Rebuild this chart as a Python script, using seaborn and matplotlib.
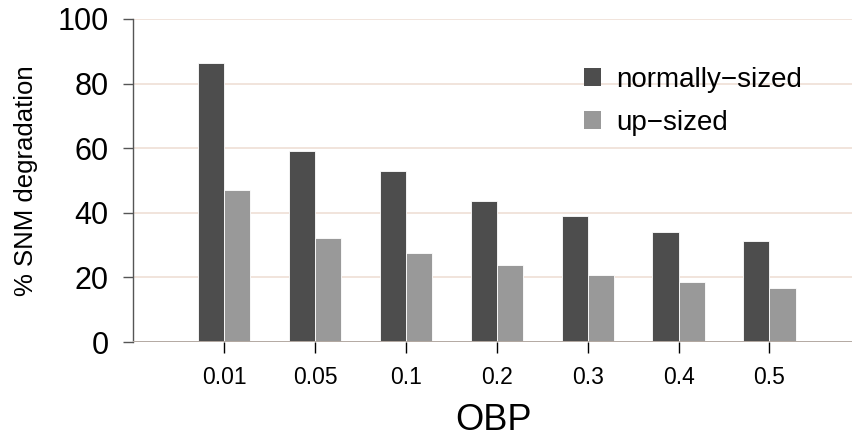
import matplotlib
matplotlib.use("Agg")
import matplotlib.pyplot as plt
from matplotlib import font_manager
from matplotlib.patches import Patch
import seaborn as sns
import pandas as pd

# Data
obp_levels = ["0.01", "0.05", "0.1", "0.2", "0.3", "0.4", "0.5"]
normally_sized = [86.4, 59.1, 52.9, 43.7, 39.0, 34.0, 31.3]
up_sized = [47.0, 32.2, 27.6, 23.8, 20.7, 18.6, 16.7]
series_names = ["normally\u2212sized", "up\u2212sized"]
y_ticks = [0, 20, 40, 60, 80, 100]

sns.set_style("white")
available = {f.name for f in font_manager.fontManager.ttflist}
regular = "Liberation Sans"
narrow = "Liberation Sans Narrow" if "Liberation Sans Narrow" in available else regular
plt.rcParams["font.family"] = [regular, "DejaVu Sans"]
plt.rcParams["text.color"] = "black"
plt.rcParams["axes.labelcolor"] = "black"
plt.rcParams["xtick.color"] = "black"
plt.rcParams["ytick.color"] = "black"

df = pd.DataFrame({
    "OBP": obp_levels * 2,
    "value": normally_sized + up_sized,
    "size": [series_names[0]] * len(obp_levels) + [series_names[1]] * len(obp_levels),
})

dark, light = "#4d4d4d", "#999999"

fig = plt.figure(figsize=(8.53, 4.36), dpi=100)
ax = fig.add_axes([133.5 / 853, (436 - 342) / 436, (853 - 133.5) / 853, (342 - 19) / 436])

# Background grid lines
for yv in y_ticks[1:]:
    ax.axhline(yv, color="#eedcd2", linewidth=1.1, zorder=0)

sns.barplot(data=df, x="OBP", y="value", hue="size", order=obp_levels,
            hue_order=series_names, palette=[dark, light], width=0.575,
            saturation=1, edgecolor="white", linewidth=0.6, legend=False,
            ax=ax, zorder=2)

ax.axhline(0, color="#b3a9a2", linewidth=1.4, zorder=3)

ax.set_xlim(-1, 6.92)
ax.set_ylim(0, 100)
ax.set_yticks(y_ticks)
ax.set_yticklabels([str(v) for v in y_ticks])

for side in ["top", "right", "bottom"]:
    ax.spines[side].set_visible(False)
ax.spines["left"].set_color("#555555")
ax.spines["left"].set_linewidth(1.0)

ax.tick_params(axis="y", length=7.5, width=1.0, color="#555555", labelcolor="black",
               pad=10.5, labelsize=22, left=True)
ax.tick_params(axis="x", length=8, width=1.0, color="black", labelcolor="black",
               pad=9, labelsize=16.5, bottom=True)
for lbl in ax.get_xticklabels():
    lbl.set_family(narrow)

ax.set_xlabel("OBP", fontsize=26, family=narrow, labelpad=10, color="black")
ax.set_ylabel("% SNM degradation", fontsize=18.5, labelpad=14, color="black")

handles = [Patch(facecolor=dark, edgecolor="none"), Patch(facecolor=light, edgecolor="none")]
fig.legend(handles, series_names, loc="upper left",
           bbox_to_anchor=(584 / 853, 1 - 67 / 436), frameon=False,
           fontsize=20, handlelength=0.62, handleheight=0.62,
           handletextpad=0.55, labelspacing=0.6, borderpad=0, borderaxespad=0,
           labelcolor="black")

fig.savefig("out.png", dpi=100)
